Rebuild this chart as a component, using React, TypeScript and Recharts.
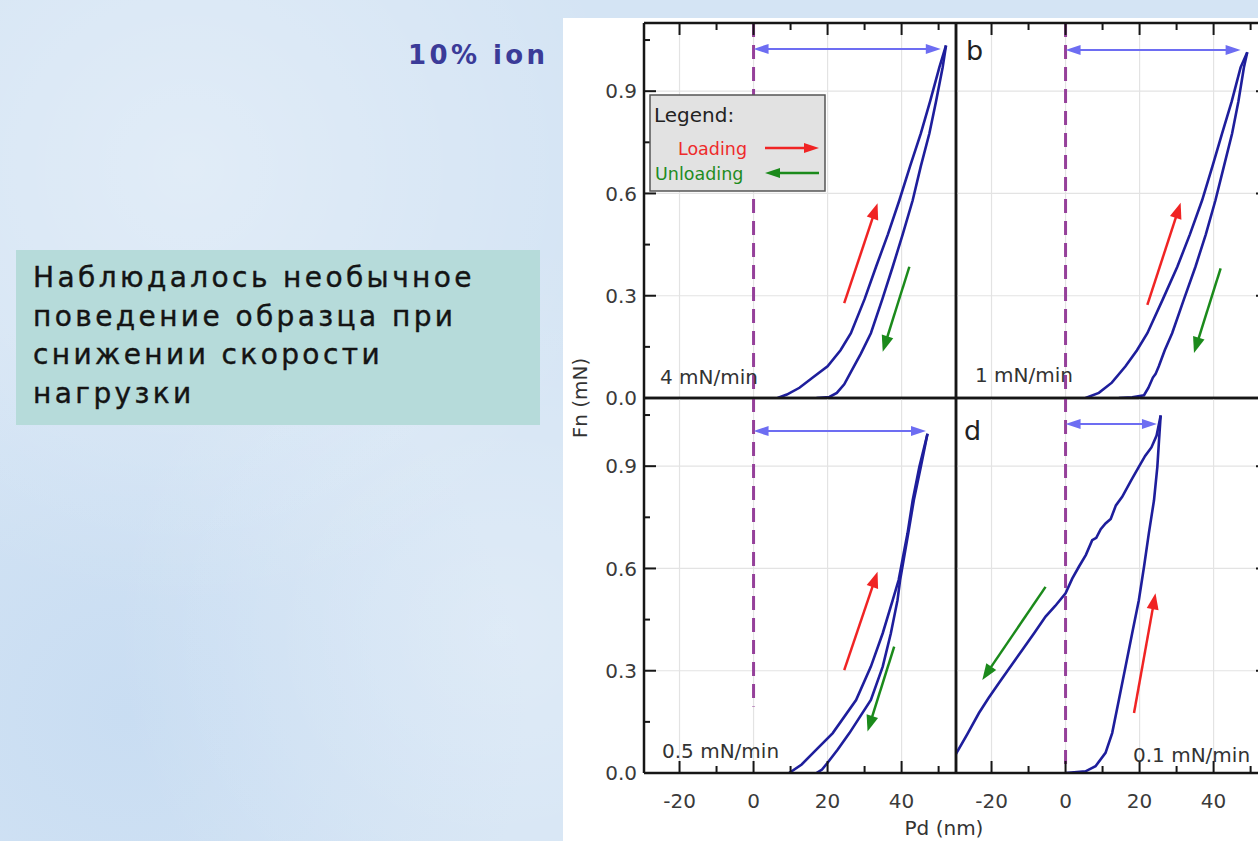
import React from 'react';
import { CartesianGrid, Line, LineChart, ReferenceLine, XAxis, YAxis } from 'recharts';

type Pt = [number, number];

// Pd (nm), Fn (mN)
const load4: Pt[] = [[6.5, 0], [9, 0.01], [12.4, 0.03], [16, 0.06], [20, 0.093], [23.5, 0.14], [26.3, 0.19], [30, 0.29], [33.1, 0.385], [36.3, 0.48], [39.4, 0.58], [42.3, 0.68], [45.2, 0.776], [47.7, 0.87], [50.2, 0.97], [52, 1.034]];
const unload4: Pt[] = [[52, 1.034], [51.1, 0.97], [49.3, 0.87], [47.5, 0.776], [45.2, 0.68], [43, 0.58], [40.3, 0.48], [37.6, 0.385], [34.8, 0.29], [31.7, 0.19], [29, 0.13], [26.5, 0.08], [24.5, 0.04], [22.5, 0.015], [20.5, 0.003], [17, 0]];

const load1: Pt[] = [[5.4, 0], [9, 0.015], [12.5, 0.045], [16.2, 0.093], [19.3, 0.14], [22.1, 0.19], [26.3, 0.29], [30.2, 0.385], [33.6, 0.48], [36.9, 0.58], [39.7, 0.68], [42.3, 0.776], [44.9, 0.87], [47.3, 0.97], [49.1, 1.014]];
const unload1: Pt[] = [[49.1, 1.014], [48.2, 0.97], [46.7, 0.87], [45, 0.776], [42.8, 0.68], [40.5, 0.58], [37.9, 0.48], [35.1, 0.385], [32, 0.29], [28.8, 0.19], [26.8, 0.14], [25.2, 0.093], [24.3, 0.07], [23.6, 0.06], [22.4, 0.03], [21.2, 0.008], [18, 0.002], [14.4, 0]];

const load05: Pt[] = [[9.6, 0], [13, 0.025], [16.9, 0.068], [21.4, 0.117], [27.7, 0.214], [31.7, 0.312], [34.9, 0.41], [37.6, 0.507], [39.2, 0.566], [41.6, 0.703], [43, 0.8], [44.8, 0.898], [47, 0.995]];
const unload05: Pt[] = [[47, 0.995], [45.2, 0.898], [43.3, 0.8], [41.8, 0.703], [39.6, 0.566], [38.9, 0.507], [37.1, 0.41], [34.9, 0.312], [31.7, 0.214], [25.9, 0.117], [22.7, 0.068], [20, 0.03], [18.5, 0.01], [17, 0]];

const load01: Pt[] = [[0, 0], [5.4, 0.005], [8.1, 0.02], [10.8, 0.059], [12.6, 0.117], [14.4, 0.214], [16.2, 0.312], [18, 0.41], [19.8, 0.507], [21.2, 0.605], [22.5, 0.703], [23.9, 0.8], [24.8, 0.898], [25.2, 0.966], [25.7, 1.049]];
const unload01: Pt[] = [[25.7, 1.049], [24.6, 0.99], [23.2, 0.955], [21.5, 0.93], [19.8, 0.898], [17.8, 0.86], [15.3, 0.81], [13.6, 0.785], [12.2, 0.745], [10.8, 0.732], [9.5, 0.715], [8.3, 0.69], [7.2, 0.683], [5.5, 0.64], [3.6, 0.605], [1.8, 0.57], [0, 0.527], [-2.8, 0.49], [-5.4, 0.459], [-8.5, 0.41], [-11.7, 0.361], [-15, 0.31], [-18, 0.264], [-20.8, 0.22], [-23.4, 0.176], [-26.5, 0.115], [-29.6, 0.056]];

// direction arrows: [from, to]
const redArrows: [Pt, Pt][] = [[[24.5, 0.278], [33.5, 0.571]], [[22.1, 0.273], [31.1, 0.573]], [[24.5, 0.302], [33.5, 0.59]], [[18.5, 0.176], [24.3, 0.527]]];
const greenArrows: [Pt, Pt][] = [[[42.1, 0.385], [34.9, 0.136]], [[41.9, 0.38], [34.7, 0.132]], [[38, 0.371], [30.8, 0.122]], [[-5.4, 0.546], [-22.5, 0.273]]];
// max depth span and zero line
const spans: [Pt, Pt][] = [[[0, 1.024], [50.6, 1.024]], [[0, 1.021], [47.3, 1.021]], [[0, 1.003], [46.6, 1.003]], [[0, 1.024], [24.7, 1.024]]];
const zeroLines: [Pt, Pt][] = [[[0, 1.1], [0, 0]], [[0, 1.1], [0, 0]], [[0, 1.1], [0, 0.195]], [[0, 1.1], [0, 0]]];

const rateLabels = ['4 mN/min', '1 mN/min', '0.5 mN/min', '0.1 mN/min'];

const xTicks = [-20, -10, 0, 10, 20, 30, 40, 50];
const yTicks = [0, 0.15, 0.3, 0.45, 0.6, 0.75, 0.9, 1.05];
const gridX = [-20, 0, 20, 40];
const gridY = [0.3, 0.6, 0.9];

const PD_DOMAIN: [number, number] = [-29.6, 54.7];
const FN_DOMAIN: [number, number] = [0, 1.1];

const FONT = '"DejaVu Sans", "Liberation Sans", sans-serif';
const CURVE = '#1e1e9c';
const AXIS = '#161616';
const LABEL = '#3a3a3a';

const PW = 312;
const PH = 375;
const ML = 90;
const MR = 20;
const MT = 12;
const MB = 70;

const toRows = (pts: Pt[]) => pts.map(([d, f]) => ({ d, f }));

const drawArrow = (
  x1: number, y1: number, x2: number, y2: number,
  color: string, width: number, both: boolean, headLen: number, headHalf: number
) => {
  const dx = x2 - x1;
  const dy = y2 - y1;
  const len = Math.hypot(dx, dy) || 1;
  const ux = dx / len;
  const uy = dy / len;
  const tri = (tx: number, ty: number, vx: number, vy: number) => {
    const bx = tx - vx * headLen;
    const by = ty - vy * headLen;
    return `${tx},${ty} ${bx - vy * headHalf},${by + vx * headHalf} ${bx + vy * headHalf},${by - vx * headHalf}`;
  };
  const inset = headLen * 0.7;
  return (
    <g>
      <line
        x1={both ? x1 + ux * inset : x1}
        y1={both ? y1 + uy * inset : y1}
        x2={x2 - ux * inset}
        y2={y2 - uy * inset}
        stroke={color}
        strokeWidth={width}
      />
      <polygon points={tri(x2, y2, ux, uy)} fill={color} />
      {both && <polygon points={tri(x1, y1, -ux, -uy)} fill={color} />}
    </g>
  );
};

const arrowShape = (color: string, width: number, both: boolean, headLen: number, headHalf: number) =>
  (p: any) => drawArrow(p.x1, p.y1, p.x2, p.y2, color, width, both, headLen, headHalf);

const isMultiple = (v: number, step: number) => Math.abs(v / step - Math.round(v / step)) < 1e-6;

// ticks point into the plot; minor ones are shorter
const xTick = (side: 'top' | 'bottom', show: boolean, labels: boolean) => (props: any) => {
  const { x, y, payload } = props;
  if (!show) return <g />;
  const v = payload.value as number;
  const major = isMultiple(v, 20);
  const len = major ? 12 : 7;
  return (
    <g>
      <line x1={x} y1={y} x2={x} y2={side === 'bottom' ? y - len : y + len} stroke={AXIS} strokeWidth={2} />
      {labels && major && (
        <text x={x} y={y + 35} textAnchor="middle" fontSize={20} fontFamily={FONT} fill={LABEL}>
          {String(v)}
        </text>
      )}
    </g>
  );
};

const yTick = (side: 'left' | 'right', show: boolean, labels: boolean) => (props: any) => {
  const { x, y, payload } = props;
  if (!show) return <g />;
  const v = payload.value as number;
  const major = isMultiple(v, 0.3);
  const len = major ? 12 : 6;
  return (
    <g>
      <line x1={x} y1={y} x2={side === 'left' ? x + len : x - len} y2={y} stroke={AXIS} strokeWidth={2} />
      {labels && major && (
        <text x={x - 7} y={y} dy="0.36em" textAnchor="end" fontSize={20} fontFamily={FONT} fill={LABEL}>
          {v.toFixed(1)}
        </text>
      )}
    </g>
  );
};

interface PanelProps {
  idx: number;
  left: number;
  top: number;
  loading: Pt[];
  unloading: Pt[];
  xSide: 'top' | 'bottom';
  ySide: 'left' | 'right';
}

const axisLine = { stroke: AXIS, strokeWidth: 2.5 };

const Panel = ({ idx, left, top, loading, unloading, xSide, ySide }: PanelProps) => (
  <div style={{ position: 'absolute', left: left - ML, top: top - MT }}>
    <LineChart
      width={PW + ML + MR}
      height={PH + MT + MB}
      margin={{ top: MT - 1, right: MR - 1, bottom: MB - 1, left: ML - 1 }}
    >
      <CartesianGrid verticalValues={gridX} horizontalValues={gridY} stroke="#e3e3e3" strokeWidth={1.2} />
      <XAxis
        type="number"
        dataKey="d"
        domain={PD_DOMAIN}
        allowDataOverflow
        ticks={xTicks}
        interval={0}
        orientation="bottom"
        height={1}
        tickSize={0}
        tickMargin={0}
        tickLine={false}
        axisLine={axisLine}
        tick={xTick('bottom', xSide === 'bottom', true)}
      />
      <XAxis
        xAxisId="top"
        type="number"
        dataKey="d"
        domain={PD_DOMAIN}
        allowDataOverflow
        ticks={xTicks}
        interval={0}
        orientation="top"
        height={1}
        tickSize={0}
        tickMargin={0}
        tickLine={false}
        axisLine={axisLine}
        tick={xTick('top', xSide === 'top', false)}
      />
      <YAxis
        type="number"
        domain={FN_DOMAIN}
        allowDataOverflow
        ticks={yTicks}
        interval={0}
        orientation="left"
        width={1}
        tickSize={0}
        tickMargin={0}
        tickLine={false}
        axisLine={axisLine}
        tick={yTick('left', ySide === 'left', true)}
      />
      <YAxis
        yAxisId="right"
        type="number"
        domain={FN_DOMAIN}
        allowDataOverflow
        ticks={yTicks}
        interval={0}
        orientation="right"
        width={1}
        tickSize={0}
        tickMargin={0}
        tickLine={false}
        axisLine={axisLine}
        tick={yTick('right', ySide === 'right', false)}
      />
      <Line data={toRows(loading)} dataKey="f" type="linear" stroke={CURVE} strokeWidth={2.6} dot={false} isAnimationActive={false} />
      <Line data={toRows(unloading)} dataKey="f" type="linear" stroke={CURVE} strokeWidth={2.6} dot={false} isAnimationActive={false} />
      <ReferenceLine
        segment={zeroLines[idx].map(([x, y]) => ({ x, y }))}
        ifOverflow="visible"
        stroke="#95409a"
        strokeWidth={3}
        strokeDasharray="14 8"
      />
      <ReferenceLine
        segment={spans[idx].map(([x, y]) => ({ x, y }))}
        ifOverflow="visible"
        shape={arrowShape('#6d6df2', 2, true, 15, 5)}
      />
      <ReferenceLine
        segment={redArrows[idx].map(([x, y]) => ({ x, y }))}
        ifOverflow="visible"
        shape={arrowShape('#f02424', 2.5, false, 16, 6)}
      />
      <ReferenceLine
        segment={greenArrows[idx].map(([x, y]) => ({ x, y }))}
        ifOverflow="visible"
        shape={arrowShape('#1b8a1b', 2.5, false, 16, 6)}
      />
    </LineChart>
  </div>
);

export default function App() {
  return (
    <div
      style={{
        position: 'fixed',
        left: 0,
        top: 0,
        width: 1258,
        height: 841,
        overflow: 'hidden',
        background:
          'radial-gradient(circle at 15% 20%, rgba(255,255,255,0.3), transparent 35%), radial-gradient(circle at 40% 75%, rgba(255,255,255,0.25), transparent 40%), radial-gradient(circle at 10% 85%, rgba(175,205,238,0.3), transparent 30%), #d4e4f4',
        fontFamily: FONT
      }}
    >
      <div style={{ position: 'absolute', left: 563, top: 18, width: 700, height: 830, background: '#ffffff' }} />

      <div
        style={{
          position: 'absolute',
          left: 408,
          top: 40,
          fontSize: 26,
          fontWeight: 'bold',
          letterSpacing: 3.4,
          color: '#3b3b98',
          whiteSpace: 'nowrap'
        }}
      >
        10% ion
      </div>

      <div
        style={{
          position: 'absolute',
          left: 16,
          top: 250,
          width: 524,
          height: 175,
          boxSizing: 'border-box',
          padding: '9px 0 0 17px',
          background: '#b6dbda',
          color: '#141414',
          fontSize: 28,
          lineHeight: '38.5px',
          letterSpacing: 3.4,
          WebkitTextStroke: '0.4px #141414',
          whiteSpace: 'nowrap'
        }}
      >
        Наблюдалось необычное
        <br />
        поведение образца при
        <br />
        снижении скорости
        <br />
        нагрузки
      </div>

      <Panel idx={0} left={644} top={23} loading={load4} unloading={unload4} xSide="top" ySide="left" />
      <Panel idx={1} left={956} top={23} loading={load1} unloading={unload1} xSide="top" ySide="right" />
      <Panel idx={2} left={644} top={398} loading={load05} unloading={unload05} xSide="bottom" ySide="left" />
      <Panel idx={3} left={956} top={398} loading={load01} unloading={unload01} xSide="bottom" ySide="right" />

      <svg width={1258} height={841} style={{ position: 'absolute', left: 0, top: 0, pointerEvents: 'none' }}>
        <g fontFamily={FONT} fill="#333">
          <text x={660} y={384} fontSize={20}>{rateLabels[0]}</text>
          <text x={975} y={382} fontSize={20}>{rateLabels[1]}</text>
          <text x={662} y={758} fontSize={20}>{rateLabels[2]}</text>
          <text x={1133} y={762} fontSize={20}>{rateLabels[3]}</text>
          <text x={966} y={60} fontSize={27} fill="#222">b</text>
          <text x={964} y={440} fontSize={27} fill="#222">d</text>
          <text x={0} y={0} fontSize={20} textAnchor="middle" transform="translate(587 398) rotate(-90)">Fn (mN)</text>
          <text x={944} y={835} fontSize={20} textAnchor="middle">Pd (nm)</text>
        </g>
        <rect x={650} y={95} width={175} height={96} fill="#e2e2e2" stroke="#555" strokeWidth={1.5} />
        <text x={654} y={122} fontSize={20} fontFamily={FONT} fill="#222">Legend:</text>
        <text x={747} y={155} fontSize={17.5} fontFamily={FONT} fill="#ee2b2b" textAnchor="end">Loading</text>
        <text x={655} y={180} fontSize={17.5} fontFamily={FONT} fill="#1f8c1f">Unloading</text>
        {drawArrow(765, 148, 819, 148, '#f02424', 2.5, false, 15, 5)}
        {drawArrow(819, 173, 765, 173, '#1b8a1b', 2.5, false, 15, 5)}
      </svg>
    </div>
  );
}
